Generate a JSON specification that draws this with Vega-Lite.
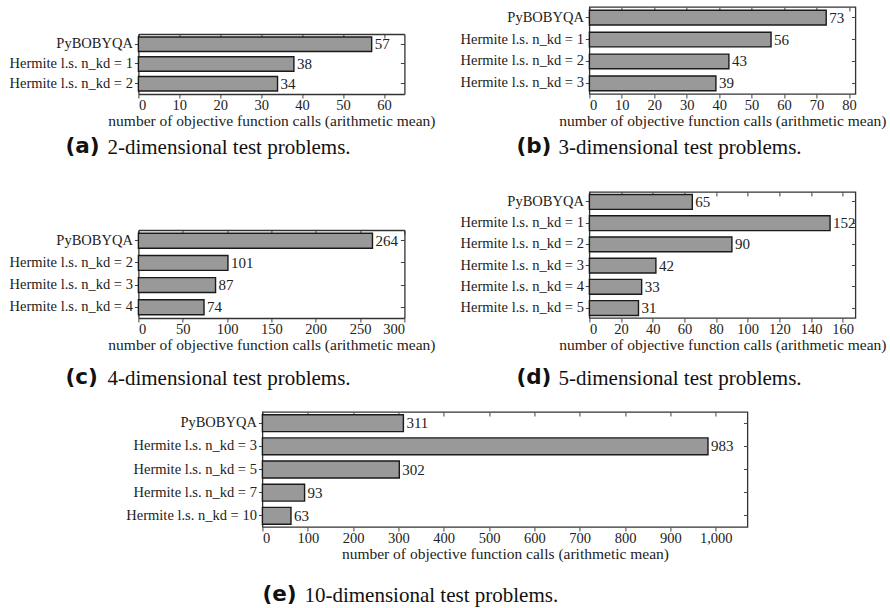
{
  "$schema": "https://vega.github.io/schema/vega-lite/v6.json",
  "background": "white",
  "padding": {"left": 9, "top": 5, "right": 2, "bottom": 3},
  "config": {
    "view": {"stroke": "#333333", "strokeWidth": 1.3},
    "axis": {
      "labelFont": "Liberation Serif", "labelFontSize": 14.5, "labelColor": "#222222",
      "titleFont": "Liberation Serif", "titleFontSize": 15.5, "titleFontWeight": "normal", "titleColor": "#222222",
      "tickColor": "#444444", "tickSize": 4, "domain": false, "domainColor": "#333333", "domainWidth": 1.3, "grid": false, "labelPadding": 2
    },
    "axisBottom": {"labelPadding": 0, "titlePadding": 2},
    "text": {"font": "Liberation Serif", "fontSize": 15, "color": "#222222"},
    "title": {"font": "DejaVu Sans", "fontWeight": "bold", "fontSize": 21.5, "color": "#111111",
      "subtitleFont": "Liberation Serif", "subtitleFontSize": 21, "subtitleColor": "#111111", "subtitlePadding": -21}
  },
  "spacing": 20,
  "center": true,
  "vconcat": [
    {
      "spacing": 31,
      "vconcat": [
        {
          "spacing": 23,
          "hconcat": [
            {
              "width": 266, "height": 87,
              "view": {"stroke": null},
              "data": {"values": [
                {"method": "PyBOBYQA", "calls": 57},
                {"method": "Hermite l.s. n_kd = 1", "calls": 38},
                {"method": "Hermite l.s. n_kd = 2", "calls": 34}
              ]},
              "title": {"text": "(a)", "subtitle": "2-dimensional test problems.", "orient": "bottom", "anchor": "start", "frame": "group", "dx": -31, "offset": 7, "encoding": {"dx": {"value": -73}}},
              "layer": [
                {"mark": {"type": "bar", "fill": "#999999", "stroke": "#1a1a1a", "strokeWidth": 1.4},
                 "encoding": {
                   "y": {"field": "method", "type": "nominal", "sort": null, "scale": {"range": [27, 87], "paddingInner": 0.27, "paddingOuter": 0.15}, "axis": {"title": null, "orient": "left", "domain": true}},
                   "x": {"field": "calls", "type": "quantitative", "scale": {"domain": [0, 65], "nice": false}, "axis": {"values": [0, 10, 20, 30, 40, 50, 60], "domain": true, "title": "number of objective function calls (arithmetic mean)"}}
                 }},
                {"mark": {"type": "text", "align": "left", "baseline": "middle", "dx": 3},
                 "encoding": {
                   "y": {"field": "method", "type": "nominal", "sort": null, "axis": {"orient": "right", "labels": false, "tickSize": -4, "domain": true, "title": null}},
                   "x": {"field": "calls", "type": "quantitative", "scale": {"domain": [0, 65], "nice": false}, "axis": {"orient": "top", "offset": -27, "labels": false, "domain": true, "values": [0, 10, 20, 30, 40, 50, 60], "tickSize": -4, "title": null}},
                   "text": {"field": "calls", "type": "quantitative"}
                 }}
              ],
              "resolve": {"axis": {"x": "independent", "y": "independent"}}
            },
            {
              "width": 266, "height": 87,
              "data": {"values": [
                {"method": "PyBOBYQA", "calls": 73},
                {"method": "Hermite l.s. n_kd = 1", "calls": 56},
                {"method": "Hermite l.s. n_kd = 2", "calls": 43},
                {"method": "Hermite l.s. n_kd = 3", "calls": 39}
              ]},
              "title": {"text": "(b)", "subtitle": "3-dimensional test problems.", "orient": "bottom", "anchor": "start", "frame": "group", "dx": -31, "offset": 7, "encoding": {"dx": {"value": -73}}},
              "layer": [
                {"mark": {"type": "bar", "fill": "#999999", "stroke": "#1a1a1a", "strokeWidth": 1.4},
                 "encoding": {
                   "y": {"field": "method", "type": "nominal", "sort": null, "scale": {"paddingInner": 0.33, "paddingOuter": 0.15}, "axis": {"title": null, "orient": "left"}},
                   "x": {"field": "calls", "type": "quantitative", "scale": {"domain": [0, 82], "nice": false}, "axis": {"values": [0, 10, 20, 30, 40, 50, 60, 70, 80], "title": "number of objective function calls (arithmetic mean)"}}
                 }},
                {"mark": {"type": "text", "align": "left", "baseline": "middle", "dx": 3},
                 "encoding": {
                   "y": {"field": "method", "type": "nominal", "sort": null, "axis": {"orient": "right", "labels": false, "tickSize": -4, "title": null}},
                   "x": {"field": "calls", "type": "quantitative", "scale": {"domain": [0, 82], "nice": false}, "axis": {"orient": "top", "labels": false, "values": [0, 10, 20, 30, 40, 50, 60, 70, 80], "tickSize": -4, "title": null}},
                   "text": {"field": "calls", "type": "quantitative"}
                 }}
              ],
              "resolve": {"axis": {"x": "independent", "y": "independent"}}
            }
          ]
        },
        {
          "spacing": 23,
          "hconcat": [
            {
              "width": 266, "height": 126,
              "view": {"stroke": null},
              "data": {"values": [
                {"method": "PyBOBYQA", "calls": 264},
                {"method": "Hermite l.s. n_kd = 2", "calls": 101},
                {"method": "Hermite l.s. n_kd = 3", "calls": 87},
                {"method": "Hermite l.s. n_kd = 4", "calls": 74}
              ]},
              "title": {"text": "(c)", "subtitle": "4-dimensional test problems.", "orient": "bottom", "anchor": "start", "frame": "group", "dx": -31, "offset": 14, "encoding": {"dx": {"value": -73}}},
              "layer": [
                {"mark": {"type": "bar", "fill": "#999999", "stroke": "#1a1a1a", "strokeWidth": 1.4},
                 "encoding": {
                   "y": {"field": "method", "type": "nominal", "sort": null, "scale": {"range": [38, 126], "paddingInner": 0.33, "paddingOuter": 0.15}, "axis": {"title": null, "orient": "left", "domain": true}},
                   "x": {"field": "calls", "type": "quantitative", "scale": {"domain": [0, 300], "nice": false}, "axis": {"values": [0, 50, 100, 150, 200, 250, 300], "domain": true, "title": "number of objective function calls (arithmetic mean)"}}
                 }},
                {"mark": {"type": "text", "align": "left", "baseline": "middle", "dx": 3},
                 "encoding": {
                   "y": {"field": "method", "type": "nominal", "sort": null, "axis": {"orient": "right", "labels": false, "tickSize": -4, "domain": true, "title": null}},
                   "x": {"field": "calls", "type": "quantitative", "scale": {"domain": [0, 300], "nice": false}, "axis": {"orient": "top", "offset": -38, "labels": false, "domain": true, "values": [0, 50, 100, 150, 200, 250, 300], "tickSize": -4, "title": null}},
                   "text": {"field": "calls", "type": "quantitative"}
                 }}
              ],
              "resolve": {"axis": {"x": "independent", "y": "independent"}}
            },
            {
              "width": 266, "height": 126,
              "data": {"values": [
                {"method": "PyBOBYQA", "calls": 65},
                {"method": "Hermite l.s. n_kd = 1", "calls": 152},
                {"method": "Hermite l.s. n_kd = 2", "calls": 90},
                {"method": "Hermite l.s. n_kd = 3", "calls": 42},
                {"method": "Hermite l.s. n_kd = 4", "calls": 33},
                {"method": "Hermite l.s. n_kd = 5", "calls": 31}
              ]},
              "title": {"text": "(d)", "subtitle": "5-dimensional test problems.", "orient": "bottom", "anchor": "start", "frame": "group", "dx": -31, "offset": 14, "encoding": {"dx": {"value": -73}}},
              "layer": [
                {"mark": {"type": "bar", "fill": "#999999", "stroke": "#1a1a1a", "strokeWidth": 1.4},
                 "encoding": {
                   "y": {"field": "method", "type": "nominal", "sort": null, "scale": {"paddingInner": 0.3, "paddingOuter": 0.12}, "axis": {"title": null, "orient": "left"}},
                   "x": {"field": "calls", "type": "quantitative", "scale": {"domain": [0, 168], "nice": false}, "axis": {"values": [0, 20, 40, 60, 80, 100, 120, 140, 160], "title": "number of objective function calls (arithmetic mean)"}}
                 }},
                {"mark": {"type": "text", "align": "left", "baseline": "middle", "dx": 3},
                 "encoding": {
                   "y": {"field": "method", "type": "nominal", "sort": null, "axis": {"orient": "right", "labels": false, "tickSize": -4, "title": null}},
                   "x": {"field": "calls", "type": "quantitative", "scale": {"domain": [0, 168], "nice": false}, "axis": {"orient": "top", "labels": false, "values": [0, 20, 40, 60, 80, 100, 120, 140, 160], "tickSize": -4, "title": null}},
                   "text": {"field": "calls", "type": "quantitative"}
                 }}
              ],
              "resolve": {"axis": {"x": "independent", "y": "independent"}}
            }
          ]
        }
      ]
    },
    {
      "width": 485, "height": 115,
      "data": {"values": [
        {"method": "PyBOBYQA", "calls": 311},
        {"method": "Hermite l.s. n_kd = 3", "calls": 983},
        {"method": "Hermite l.s. n_kd = 5", "calls": 302},
        {"method": "Hermite l.s. n_kd = 7", "calls": 93},
        {"method": "Hermite l.s. n_kd = 10", "calls": 63}
      ]},
      "title": {"text": "(e)", "subtitle": "10-dimensional test problems.", "orient": "bottom", "anchor": "start", "frame": "group", "dx": 42, "offset": 22, "encoding": {"dx": {"value": 0}}},
      "layer": [
        {"mark": {"type": "bar", "fill": "#999999", "stroke": "#1a1a1a", "strokeWidth": 1.4},
         "encoding": {
           "y": {"field": "method", "type": "nominal", "sort": null, "scale": {"paddingInner": 0.27, "paddingOuter": 0.12}, "axis": {"title": null, "orient": "left"}},
           "x": {"field": "calls", "type": "quantitative", "scale": {"domain": [0, 1070], "nice": false}, "axis": {"values": [0, 100, 200, 300, 400, 500, 600, 700, 800, 900, 1000], "format": ",d", "title": "number of objective function calls (arithmetic mean)"}}
         }},
        {"mark": {"type": "text", "align": "left", "baseline": "middle", "dx": 3},
         "encoding": {
           "y": {"field": "method", "type": "nominal", "sort": null, "axis": {"orient": "right", "labels": false, "tickSize": -4, "title": ".", "titleOpacity": 0, "titleFontSize": 10, "titlePadding": 4}},
           "x": {"field": "calls", "type": "quantitative", "scale": {"domain": [0, 1070], "nice": false}, "axis": {"orient": "top", "labels": false, "values": [0, 100, 200, 300, 400, 500, 600, 700, 800, 900, 1000], "tickSize": -4, "title": null}},
           "text": {"field": "calls", "type": "quantitative"}
         }}
      ],
      "resolve": {"axis": {"x": "independent", "y": "independent"}}
    }
  ]
}
